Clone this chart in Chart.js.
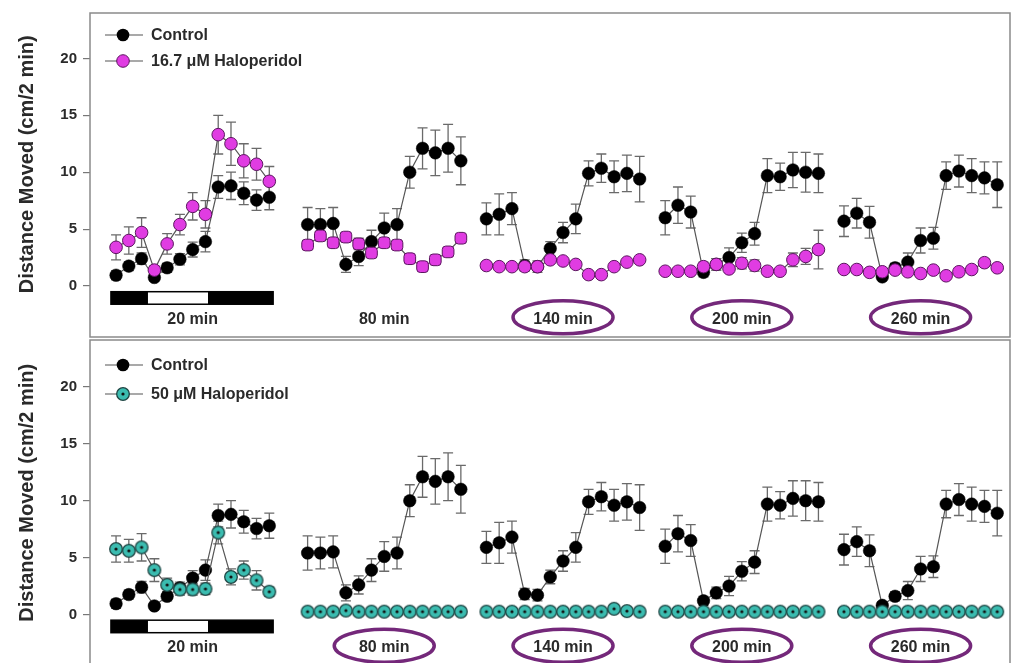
<!DOCTYPE html>
<html>
<head>
<meta charset="utf-8">
<script src="https://cdn.jsdelivr.net/npm/chart.js@4/dist/chart.umd.min.js"></script>
<style>
  html, body { margin: 0; padding: 0; background: #fff; overflow: hidden; }
  #wrap { position: relative; width: 1013px; height: 663px; overflow: hidden; }
  canvas { position: absolute; left: 0; }
  #topChart { top: 0; }
  #bottomChart { top: 338px; }
</style>
</head>
<body>
<div id="wrap">
  <canvas id="topChart" width="1013" height="338"></canvas>
  <canvas id="bottomChart" width="1013" height="332"></canvas>
</div>
<script>
// Sessions and the 2-min bin where each one starts
const sessions = ['20 min', '80 min', '140 min', '200 min', '260 min'];
const sessionStartBin = [0, 15, 29, 43, 57];
const yTicks = [0, 5, 10, 15, 20];

// Control (same animals shown in both panels)
const controlMean = [
    [0.95, 1.75, 2.4, 0.75, 1.6, 2.35, 3.2, 3.9, 8.7, 8.8, 8.15, 7.55, 7.8],
    [5.4, 5.4, 5.5, 1.9, 2.6, 3.9, 5.1, 5.4, 10.0, 12.1, 11.7, 12.1, 11.0],
    [5.9, 6.3, 6.8, 1.8, 1.7, 3.3, 4.7, 5.9, 9.9, 10.35, 9.6, 9.9, 9.4],
    [6.0, 7.1, 6.5, 1.2, 1.9, 2.5, 3.8, 4.6, 9.7, 9.6, 10.2, 10.0, 9.9],
    [5.7, 6.4, 5.6, 0.8, 1.6, 2.1, 4.0, 4.2, 9.7, 10.1, 9.7, 9.5, 8.9]
];
const controlSem = [
    [0.4, 0.4, 0.5, 0.3, 0.4, 0.5, 0.65, 0.9, 1.0, 1.2, 1.0, 0.9, 1.1],
    [1.5, 1.4, 1.4, 0.7, 0.8, 1.0, 1.3, 1.4, 1.4, 1.8, 2.0, 2.1, 2.1],
    [1.4, 1.8, 1.4, 0.5, 0.5, 0.6, 0.9, 1.3, 1.1, 1.25, 1.4, 1.6, 2.0],
    [1.5, 1.6, 1.4, 0.4, 0.5, 0.85, 0.85, 1.0, 1.5, 1.2, 1.55, 1.75, 1.7],
    [1.35, 1.3, 1.4, 0.3, 0.4, 0.8, 1.1, 0.95, 1.2, 1.4, 1.5, 1.4, 2.0]
];

// 16.7 uM haloperidol (top panel)
const halo167Mean = [
    [3.4, 4.0, 4.7, 1.4, 3.7, 5.4, 7.0, 6.3, 13.3, 12.5, 11.0, 10.7, 9.2],
    [3.6, 4.4, 3.8, 4.3, 3.7, 2.9, 3.8, 3.6, 2.4, 1.7, 2.3, 3.0, 4.2],
    [1.8, 1.7, 1.7, 1.7, 1.7, 2.3, 2.2, 1.9, 1.0, 1.0, 1.7, 2.1, 2.3],
    [1.3, 1.3, 1.3, 1.7, 1.9, 1.5, 2.0, 1.8, 1.3, 1.3, 2.3, 2.6, 3.2],
    [1.45, 1.45, 1.2, 1.25, 1.4, 1.25, 1.1, 1.4, 0.9, 1.25, 1.45, 2.05, 1.6]
];
const halo167Sem = [
    [1.1, 1.2, 1.3, 0.4, 0.9, 0.9, 1.2, 1.2, 1.7, 1.9, 1.5, 1.4, 1.3],
    [0.3, 0.4, 0.3, 0.4, 0.5, 0.3, 0.3, 0.3, 0.2, 0.2, 0.2, 0.2, 0.2],
    [0.2, 0.2, 0.2, 0.3, 0.3, 0.2, 0.2, 0.2, 0.2, 0.2, 0.2, 0.2, 0.2],
    [0.2, 0.2, 0.2, 0.4, 0.5, 0.3, 0.5, 0.5, 0.2, 0.2, 0.6, 0.7, 1.7],
    [0.2, 0.2, 0.2, 0.3, 0.3, 0.2, 0.2, 0.2, 0.2, 0.2, 0.2, 0.3, 0.2]
];

// 50 uM haloperidol (bottom panel)
const halo50Mean = [
    [5.75, 5.6, 5.9, 3.9, 2.6, 2.2, 2.2, 2.25, 7.2, 3.3, 3.9, 3.0, 2.0],
    [0.25, 0.25, 0.25, 0.35, 0.25, 0.25, 0.25, 0.25, 0.25, 0.25, 0.25, 0.25, 0.25],
    [0.25, 0.25, 0.25, 0.25, 0.25, 0.25, 0.25, 0.25, 0.25, 0.25, 0.5, 0.3, 0.25],
    [0.25, 0.25, 0.25, 0.25, 0.25, 0.25, 0.25, 0.25, 0.25, 0.25, 0.25, 0.25, 0.25],
    [0.25, 0.25, 0.25, 0.25, 0.25, 0.25, 0.25, 0.25, 0.25, 0.25, 0.25, 0.25, 0.25]
];
const halo50Sem = [
    [1.15, 1.0, 1.2, 1.0, 0.6, 0.5, 0.5, 0.5, 1.0, 0.7, 0.8, 0.85, 0.4],
    [0.1, 0.1, 0.1, 0.1, 0.1, 0.1, 0.1, 0.1, 0.1, 0.1, 0.1, 0.1, 0.1],
    [0.1, 0.1, 0.1, 0.1, 0.1, 0.1, 0.1, 0.1, 0.1, 0.1, 0.1, 0.1, 0.1],
    [0.1, 0.1, 0.1, 0.1, 0.1, 0.1, 0.1, 0.1, 0.1, 0.1, 0.1, 0.1, 0.1],
    [0.1, 0.1, 0.1, 0.1, 0.1, 0.1, 0.1, 0.1, 0.1, 0.1, 0.1, 0.1, 0.1]
];

// dark / light / dark phases under the first session (in bins)
const phases = [['dark', -0.4, 2.5], ['light', 2.5, 7.2], ['dark', 7.2, 12.3]];

const FONT = '"Liberation Sans", Arial, sans-serif';
const TEXT = '#2a2a2a';
const LINE = '#555';
const PINK = '#e03ce2';
const PINK_EDGE = '#5a165e';
const RING = '#74287a';

// teal marker with black centre dot
function tealMarker() {
    const c = document.createElement('canvas');
    c.width = 16; c.height = 16;
    const g = c.getContext('2d');
    g.beginPath();
    g.arc(8, 8, 6.3, 0, Math.PI * 2);
    g.fillStyle = '#3bbcb0';
    g.fill();
    g.lineWidth = 1.3;
    g.strokeStyle = '#1e4442';
    g.stroke();
    g.beginPath();
    g.arc(8, 8, 1.6, 0, Math.PI * 2);
    g.fillStyle = '#111';
    g.fill();
    return c;
}
const TEAL_IMG = tealMarker();

// turn the per-session arrays into {x, y, err} points, with a break after each session
function buildPoints(means, sems) {
    const pts = [];
    means.forEach((row, g) => {
        row.forEach((v, i) => {
            pts.push({ x: sessionStartBin[g] + i, y: v, err: sems[g][i], g: g });
        });
        pts.push({ x: sessionStartBin[g] + 12.5, y: null, err: 0, g: g });
    });
    return pts;
}

function drawLegendMarker(ctx, kind, x, y) {
    ctx.save();
    if (kind === 'control') {
        ctx.beginPath(); ctx.arc(x, y, 6.3, 0, Math.PI * 2);
        ctx.fillStyle = '#000'; ctx.fill();
    } else if (kind === 'pink') {
        ctx.beginPath(); ctx.arc(x, y, 6.3, 0, Math.PI * 2);
        ctx.fillStyle = PINK; ctx.fill();
        ctx.lineWidth = 1; ctx.strokeStyle = PINK_EDGE; ctx.stroke();
    } else {
        ctx.drawImage(TEAL_IMG, x - 8, y - 8);
    }
    ctx.restore();
}

function makeDecor(cfg) {
    return {
        id: 'panelDecor',
        beforeDatasetsDraw(chart) {
            // error bars behind every marker
            const ctx = chart.ctx;
            const ys = chart.scales.y;
            ctx.save();
            ctx.strokeStyle = '#6a6a6a';
            ctx.lineWidth = 1.3;
            chart.data.datasets.forEach((ds, di) => {
                const meta = chart.getDatasetMeta(di);
                ds.data.forEach((p, i) => {
                    if (p.y === null || !p.err) return;
                    const x = meta.data[i].x;
                    const y1 = ys.getPixelForValue(p.y + p.err);
                    const y2 = ys.getPixelForValue(p.y - p.err);
                    ctx.beginPath();
                    ctx.moveTo(x, y1); ctx.lineTo(x, y2);
                    ctx.moveTo(x - 5, y1); ctx.lineTo(x + 5, y1);
                    ctx.moveTo(x - 5, y2); ctx.lineTo(x + 5, y2);
                    ctx.stroke();
                });
            });
            ctx.restore();
        },
        afterDraw(chart) {
            const ctx = chart.ctx;
            const xs = chart.scales.x;
            const ys = chart.scales.y;
            const a = chart.chartArea;
            ctx.save();

            // panel frame
            ctx.strokeStyle = '#8a8a8a';
            ctx.lineWidth = 1.5;
            ctx.strokeRect(a.left, a.top, a.right - a.left, a.bottom - a.top);

            // light/dark bar under first session
            const by1 = ys.getPixelForValue(-0.5);
            const by2 = ys.getPixelForValue(-1.6);
            phases.forEach(([kind, s, e]) => {
                const x1 = xs.getPixelForValue(s);
                const x2 = xs.getPixelForValue(e);
                ctx.fillStyle = kind === 'dark' ? '#000' : '#fff';
                ctx.fillRect(x1, by1, x2 - x1, by2 - by1);
            });
            ctx.strokeStyle = '#000';
            ctx.lineWidth = 1.5;
            const bx1 = xs.getPixelForValue(phases[0][1]);
            const bx2 = xs.getPixelForValue(phases[phases.length - 1][2]);
            ctx.strokeRect(bx1, by1, bx2 - bx1, by2 - by1);

            // session labels, some circled
            ctx.font = 'bold 16px ' + FONT;
            ctx.fillStyle = TEXT;
            ctx.textAlign = 'center';
            ctx.textBaseline = 'middle';
            sessions.forEach((label, g) => {
                const cx = xs.getPixelForValue(sessionStartBin[g] + 6);
                ctx.fillText(label, cx, ys.getPixelForValue(-2.95));
                if (cfg.circled[g]) {
                    ctx.beginPath();
                    ctx.ellipse(cx, ys.getPixelForValue(-2.75), 50, 16.5, 0, 0, Math.PI * 2);
                    ctx.strokeStyle = RING;
                    ctx.lineWidth = 3.5;
                    ctx.stroke();
                }
            });

            // legend
            cfg.legend.forEach((item, i) => {
                const ly = cfg.legendY[i];
                ctx.beginPath();
                ctx.moveTo(105, ly); ctx.lineTo(143, ly);
                ctx.strokeStyle = LINE; ctx.lineWidth = 1.2;
                ctx.stroke();
                drawLegendMarker(ctx, item.kind, 123, ly);
                ctx.font = 'bold 16px ' + FONT;
                ctx.fillStyle = TEXT;
                ctx.textAlign = 'left';
                ctx.textBaseline = 'middle';
                ctx.fillText(item.text, 151, ly + 1);
            });

            // y axis title
            ctx.save();
            ctx.translate(27, ys.getPixelForValue(10.7));
            ctx.rotate(-Math.PI / 2);
            ctx.font = 'bold 20px ' + FONT;
            ctx.fillStyle = TEXT;
            ctx.textAlign = 'center';
            ctx.textBaseline = 'middle';
            ctx.fillText('Distance Moved (cm/2 min)', 0, 0);
            ctx.restore();

            ctx.restore();
        }
    };
}

function makeChart(id, cfg) {
    const controlDs = {
        label: 'Control',
        data: buildPoints(controlMean, controlSem),
        borderColor: LINE,
        borderWidth: 1.2,
        pointRadius: 6.3,
        pointBackgroundColor: '#000',
        pointBorderColor: '#000',
        pointBorderWidth: 0.5,
        spanGaps: false,
        order: 2
    };
    const haloDs = {
        label: cfg.haloLabel,
        data: buildPoints(cfg.haloMean, cfg.haloSem),
        borderColor: LINE,
        borderWidth: 1.2,
        spanGaps: false,
        order: 1
    };
    if (cfg.teal) {
        haloDs.pointStyle = TEAL_IMG;
        haloDs.pointRadius = 8;
    } else {
        haloDs.pointStyle = c => (c.raw && c.raw.g === 1 ? 'rectRounded' : 'circle');
        haloDs.pointRadius = c => (c.raw && c.raw.g === 1 ? 6.8 : 6.3);
        haloDs.pointBackgroundColor = PINK;
        haloDs.pointBorderColor = PINK_EDGE;
        haloDs.pointBorderWidth = 1;
    }

    return new Chart(document.getElementById(id), {
        type: 'line',
        data: { datasets: [controlDs, haloDs] },
        options: {
            responsive: false,
            animation: false,
            devicePixelRatio: 1,
            layout: {
                autoPadding: false,
                padding: { left: 0, right: 3, top: cfg.padTop, bottom: cfg.padBottom }
            },
            plugins: {
                legend: { display: false },
                tooltip: { enabled: false }
            },
            scales: {
                x: { type: 'linear', min: -2.04, max: 70.0, display: false },
                y: {
                    min: cfg.yMin,
                    max: cfg.yMax,
                    afterBuildTicks: s => { s.ticks = yTicks.map(v => ({ value: v })); },
                    afterFit: s => { s.width = 90; s.paddingTop = 0; s.paddingBottom = 0; },
                    ticks: {
                        color: TEXT,
                        padding: 6,
                        font: { family: FONT, size: 15, weight: 'bold' }
                    },
                    grid: {
                        drawOnChartArea: false,
                        drawTicks: true,
                        tickLength: 7,
                        color: '#777',
                        lineWidth: 1.2
                    },
                    border: { display: false }
                }
            }
        },
        plugins: [makeDecor(cfg)]
    });
}

makeChart('topChart', {
    haloLabel: '16.7 μM Haloperidol',
    haloMean: halo167Mean,
    haloSem: halo167Sem,
    teal: false,
    padTop: 13,
    padBottom: 1,
    yMin: -4.48,
    yMax: 23.99,
    circled: [false, false, true, true, true],
    legend: [{ kind: 'control', text: 'Control' }, { kind: 'pink', text: '16.7 μM Haloperidol' }],
    legendY: [35, 61]
});

makeChart('bottomChart', {
    haloLabel: '50 μM Haloperidol',
    haloMean: halo50Mean,
    haloSem: halo50Sem,
    teal: true,
    padTop: 2,
    padBottom: 1,
    yMin: -4.79,
    yMax: 24.12,
    circled: [false, true, true, true, true],
    legend: [{ kind: 'control', text: 'Control' }, { kind: 'teal', text: '50 μM Haloperidol' }],
    legendY: [27, 56]
});
</script>
</body>
</html>
